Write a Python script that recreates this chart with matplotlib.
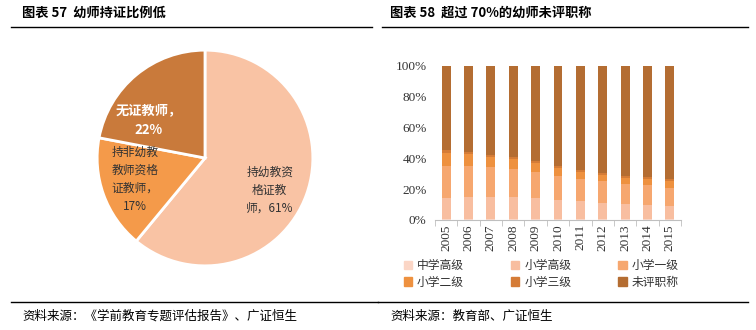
import matplotlib
matplotlib.use("Agg")
import matplotlib.pyplot as plt
from matplotlib.lines import Line2D
from matplotlib.patches import Patch
import numpy as np

plt.rcParams['font.family'] = ['Noto Sans CJK SC', 'DejaVu Sans']

# ---- pie data (left chart) ----
pie_labels = ["持幼教资\n格证教\n师，61%", "持非幼教\n教师资格\n证教师，\n17%", "无证教师，\n22%"]
pie_values = [61, 17, 22]
pie_colors = ["#F9C3A4", "#F49A4A", "#C97A3B"]

# ---- stacked bar data (right chart), percent ----
years = ["2005", "2006", "2007", "2008", "2009", "2010",
         "2011", "2012", "2013", "2014", "2015"]
series_names = ["中学高级", "小学高级", "小学一级", "小学二级", "小学三级", "未评职称"]
zhongxue_gaoji = [0.6, 0.6, 0.5, 0.5, 0.5, 0.5, 0.4, 0.4, 0.4, 0.4, 0.4]
xiaoxue_gaoji = [13.7, 14.3, 14.4, 14.4, 13.8, 12.5, 11.9, 10.6, 10.0, 9.3, 8.7]
xiaoxue_yiji = [20.8, 20.2, 19.5, 18.2, 16.9, 15.6, 14.3, 14.3, 13.0, 13.0, 11.7]
xiaoxue_erji = [8.4, 7.5, 6.5, 6.5, 5.8, 5.2, 4.6, 3.9, 3.9, 3.9, 4.5]
xiaoxue_sanji = [2.0, 1.6, 1.3, 1.3, 1.3, 1.3, 1.3, 1.3, 1.3, 1.3, 1.3]
weiping = [54.5, 55.8, 57.8, 59.1, 61.7, 64.9, 67.5, 69.5, 71.4, 72.1, 73.4]
bar_colors = ["#FBD6C6", "#F8BEA0", "#F6A76F", "#EE913F", "#D57C37", "#B46D32"]

fig = plt.figure(figsize=(7.56, 3.30), dpi=100)

# titles and rules
fig.text(22 / 756, 1 - 13 / 330, "图表 57  幼师持证比例低", fontsize=9.5,
         fontweight="bold", va="center", ha="left")
fig.text(390 / 756, 1 - 13 / 330, "图表 58  超过 70%的幼师未评职称", fontsize=9.5,
         fontweight="bold", va="center", ha="left")
for x0, x1 in [(11, 372), (382, 748)]:
    fig.add_artist(Line2D([x0 / 756, x1 / 756], [1 - 27 / 330] * 2,
                          color="black", lw=1.0))
for x0, x1 in [(11, 378), (378, 748)]:
    fig.add_artist(Line2D([x0 / 756, x1 / 756], [1 - 302 / 330] * 2,
                          color="black", lw=1.0))
fig.text(22 / 756, 1 - 316 / 330, "资料来源：《学前教育专题评估报告》、广证恒生",
         fontsize=9, va="center", ha="left")
fig.text(390 / 756, 1 - 316 / 330, "资料来源：教育部、广证恒生",
         fontsize=9, va="center", ha="left")

# ---- pie ----
cx, cy, r = 205, 158, 110
ax1 = fig.add_axes([(cx - r) / 756, 1 - (cy + r) / 330, 2 * r / 756, 2 * r / 330])
wedges, _ = ax1.pie(pie_values, colors=pie_colors, startangle=90,
                    counterclock=False, radius=1.0,
                    wedgeprops=dict(edgecolor="white", linewidth=2))
ax1.set_xlim(-1.02, 1.02)
ax1.set_ylim(-1.02, 1.02)
ax1.axis("off")
ax1.text(0.6, -0.3, pie_labels[0], fontsize=8.5, ha="center", va="center",
         color="#333333", linespacing=1.5)
ax1.text(-0.65, -0.2, pie_labels[1], fontsize=8.5, ha="center", va="center",
         color="#333333", linespacing=1.5)
ax1.text(-0.52, 0.35, pie_labels[2], fontsize=9.5, ha="center", va="center",
         color="white", fontweight="bold", linespacing=1.5)

# ---- stacked bars ----
ax2 = fig.add_axes([435 / 756, 1 - 220 / 330, 246 / 756, 154 / 330])
data = [zhongxue_gaoji, xiaoxue_gaoji, xiaoxue_yiji, xiaoxue_erji,
        xiaoxue_sanji, weiping]
x = np.arange(len(years))
bottom = np.zeros(len(years))
for name, vals, col in zip(series_names, data, bar_colors):
    vals = np.array(vals)
    ax2.bar(x, vals, 0.4, bottom=bottom, color=col, label=name)
    bottom += vals
ax2.set_xlim(-0.5, len(years) - 0.5)
ax2.set_ylim(0, 100)
ax2.set_yticks(np.arange(0, 101, 20))
ax2.set_yticklabels([f"{v}%" for v in range(0, 101, 20)],
                    family="Liberation Serif", fontsize=9.5, color="#333333")
ax2.set_xticks(x)
ax2.set_xticklabels(years, rotation=90, family="Liberation Serif",
                    fontsize=9.5, color="#333333")
ax2.set_xticks(np.arange(-0.5, len(years), 1), minor=True)
ax2.tick_params(axis="x", which="major", length=0, pad=3)
ax2.tick_params(axis="x", which="minor", length=4, color="#BFBFBF")
ax2.tick_params(axis="y", length=0, pad=6)
for s in ["top", "right", "left"]:
    ax2.spines[s].set_visible(False)
ax2.spines["bottom"].set_color("#BFBFBF")

# legend laid out row by row (matplotlib fills columns first)
order = [0, 3, 1, 4, 2, 5]
handles = [Patch(color=bar_colors[i]) for i in order]
labels = [series_names[i] for i in order]
fig.legend(handles, labels, ncol=3, frameon=False,
           loc="upper left", bbox_to_anchor=(404 / 756, 1 - 259 / 330),
           fontsize=8.5, handlelength=0.7, handleheight=0.7,
           handletextpad=0.4, columnspacing=4.0, labelspacing=0.3,
           labelcolor="#333333", borderaxespad=0, borderpad=0)

fig.savefig("out.png", dpi=100)
